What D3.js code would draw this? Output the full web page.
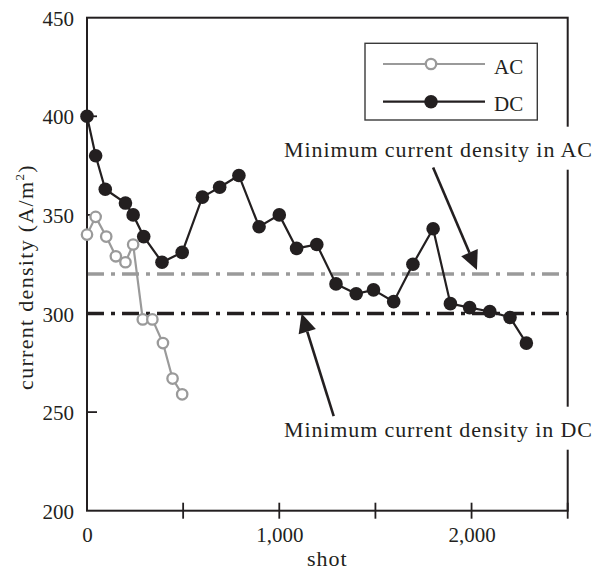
<!DOCTYPE html>
<html>
<head>
<meta charset="utf-8">
<script src="https://cdn.jsdelivr.net/npm/d3@7"></script>
<style>
  html, body { margin: 0; padding: 0; background: #fff; }
  svg { display: block; }
  text { font-family: "Liberation Serif", "DejaVu Serif", serif; fill: #231f20; }
</style>
</head>
<body>
<div id="chart"></div>
<script>
// ---- data ----
const acShots = [0, 45, 100, 150, 200, 240, 290, 340, 395, 445, 495];
const acValues = [340, 349, 339, 329, 326, 335, 297, 297, 285, 267, 259];
const dcShots = [0, 45, 95, 200, 240, 295, 390, 495, 600, 690, 790, 895, 1000, 1090, 1195, 1295, 1400, 1490, 1595, 1695, 1800, 1890, 1990, 2095, 2200, 2285];
const dcValues = [400, 380, 363, 356, 350, 339, 326, 331, 359, 364, 370, 344, 350, 333, 335, 315, 310, 312, 306, 325, 343, 305, 303, 301, 298, 285];
const seriesNames = ["AC", "DC"];
const minLimits = [320, 300];           // minimum current density: AC, DC
const annotations = ["Minimum current density in AC", "Minimum current density in DC"];
const xTickValues = [0, 500, 1000, 1500, 2000, 2500];
const xTickLabels = ["0", "", "1,000", "", "2,000", ""];
const yTickValues = [200, 250, 300, 350, 400, 450];
const xTitle = "shot";
// annotation arrows in data units: [tailShot, tailValue, tipShot, tipValue]
const acArrow = [1800, 374, 2028, 322];
const dcArrow = [1283, 248, 1116, 300];

// ---- layout ----
const W = 601, H = 572;
const L = 87, R = 567.7, T = 17.7, B = 510.7;
const ink = "#231f20", grey = "#9a9a9a";

const svg = d3.select("#chart").append("svg").attr("width", W).attr("height", H);

const x = d3.scaleLinear().domain([0, 2500]).range([L, R]);
const y = d3.scaleLinear().domain([200, 450]).range([B, T]);

// reference lines
const refColors = [grey, ink];
minLimits.forEach((v, i) => {
  svg.append("line")
    .attr("x1", x(0)).attr("x2", x(2500))
    .attr("y1", y(v)).attr("y2", y(v))
    .attr("stroke", refColors[i]).attr("stroke-width", 3.4)
    .attr("stroke-dasharray", "17,7,4,7");
});

// axes
const yAxis = d3.axisLeft(y).tickValues(yTickValues).tickSize(0).tickPadding(13);
const gy = svg.append("g").attr("transform", `translate(${L},0)`).call(yAxis);
gy.select(".domain").remove();
gy.selectAll("text").attr("font-size", 21).attr("fill", ink).attr("dy", "0.36em");
// inward y ticks
svg.append("g").selectAll("line").data(yTickValues.slice(1, -1)).join("line")
  .attr("x1", L).attr("x2", L + 10).attr("y1", d => y(d)).attr("y2", d => y(d))
  .attr("stroke", ink).attr("stroke-width", 1.8);

const xAxis = d3.axisBottom(x).tickValues(xTickValues)
  .tickFormat((d, i) => xTickLabels[i]).tickSize(0).tickPadding(16);
const gx = svg.append("g").attr("transform", `translate(0,${B})`).call(xAxis);
gx.select(".domain").remove();
gx.selectAll("text").attr("font-size", 21).attr("fill", ink);
// crossing x ticks
svg.append("g").selectAll("line").data(xTickValues.slice(1)).join("line")
  .attr("x1", d => x(d)).attr("x2", d => x(d)).attr("y1", B - 8).attr("y2", B + 8)
  .attr("stroke", ink).attr("stroke-width", 1.8);

// frame
svg.append("rect").attr("x", L).attr("y", T).attr("width", R - L).attr("height", B - T)
  .attr("fill", "none").attr("stroke", ink).attr("stroke-width", 2);

// axis titles
svg.append("text").attr("x", (L + R) / 2).attr("y", 566).attr("text-anchor", "middle")
  .attr("font-size", 22).attr("letter-spacing", 1).text(xTitle);
const yt = svg.append("text").attr("transform", `translate(33,277) rotate(-90)`)
  .attr("text-anchor", "middle").attr("font-size", 22).attr("letter-spacing", 1.3);
yt.append("tspan").text("current density (A/m");
yt.append("tspan").attr("font-size", 13).attr("dy", -9).text("2");
yt.append("tspan").attr("dy", 9).text(")");

// series
const acData = acShots.map((s, i) => [s, acValues[i]]);
const dcData = dcShots.map((s, i) => [s, dcValues[i]]);
const line = d3.line().x(d => x(d[0])).y(d => y(d[1]));

svg.append("path").datum(acData).attr("d", line).attr("fill", "none")
  .attr("stroke", grey).attr("stroke-width", 2.2);
svg.append("g").selectAll("circle").data(acData).join("circle")
  .attr("cx", d => x(d[0])).attr("cy", d => y(d[1])).attr("r", 5.2)
  .attr("fill", "#fff").attr("stroke", grey).attr("stroke-width", 2.3);

svg.append("path").datum(dcData).attr("d", line).attr("fill", "none")
  .attr("stroke", ink).attr("stroke-width", 2.2);
svg.append("g").selectAll("circle").data(dcData).join("circle")
  .attr("cx", d => x(d[0])).attr("cy", d => y(d[1])).attr("r", 6.8)
  .attr("fill", ink);

// annotation labels (white backing breaks the right frame)
const annBaselines = [156.7, 436.7];
annotations.forEach((t, i) => {
  svg.append("rect").attr("x", 556).attr("y", annBaselines[i] - 30).attr("width", 45).attr("height", 43)
    .attr("fill", "#fff");
  svg.append("text").attr("x", 284).attr("y", annBaselines[i]).attr("font-size", 22)
    .attr("textLength", 308).attr("lengthAdjust", "spacing").text(t);
});

// arrows
function arrow(a) {
  const x1 = x(a[0]), y1 = y(a[1]), x2 = x(a[2]), y2 = y(a[3]);
  const ang = Math.atan2(y2 - y1, x2 - x1);
  const len = 19, hw = 9;
  const bx = x2 - len * Math.cos(ang), by = y2 - len * Math.sin(ang);
  svg.append("line").attr("x1", x1).attr("y1", y1).attr("x2", bx).attr("y2", by)
    .attr("stroke", ink).attr("stroke-width", 2.6);
  const px = -Math.sin(ang) * hw, py = Math.cos(ang) * hw;
  svg.append("path")
    .attr("d", `M${x2},${y2}L${bx + px},${by + py}L${bx - px},${by - py}Z`)
    .attr("fill", ink);
}
arrow(acArrow);
arrow(dcArrow);

// legend
const lg = svg.append("g");
lg.append("rect").attr("x", 365).attr("y", 43.3).attr("width", 172.3).attr("height", 76.7)
  .attr("fill", "#fff").attr("stroke", "#3a3a3a").attr("stroke-width", 1.4);
const legY = [64, 101.7];
const legColors = [grey, ink];
seriesNames.forEach((n, i) => {
  lg.append("line").attr("x1", 383).attr("x2", 485).attr("y1", legY[i]).attr("y2", legY[i])
    .attr("stroke", legColors[i]).attr("stroke-width", 2.2);
  if (i === 0) {
    lg.append("circle").attr("cx", 431).attr("cy", legY[i]).attr("r", 5.2)
      .attr("fill", "#fff").attr("stroke", grey).attr("stroke-width", 2.3);
  } else {
    lg.append("circle").attr("cx", 431).attr("cy", legY[i]).attr("r", 6.8).attr("fill", ink);
  }
  lg.append("text").attr("x", 494).attr("y", legY[i] + 9.5).attr("font-size", 21).text(n);
});
</script>
</body>
</html>
